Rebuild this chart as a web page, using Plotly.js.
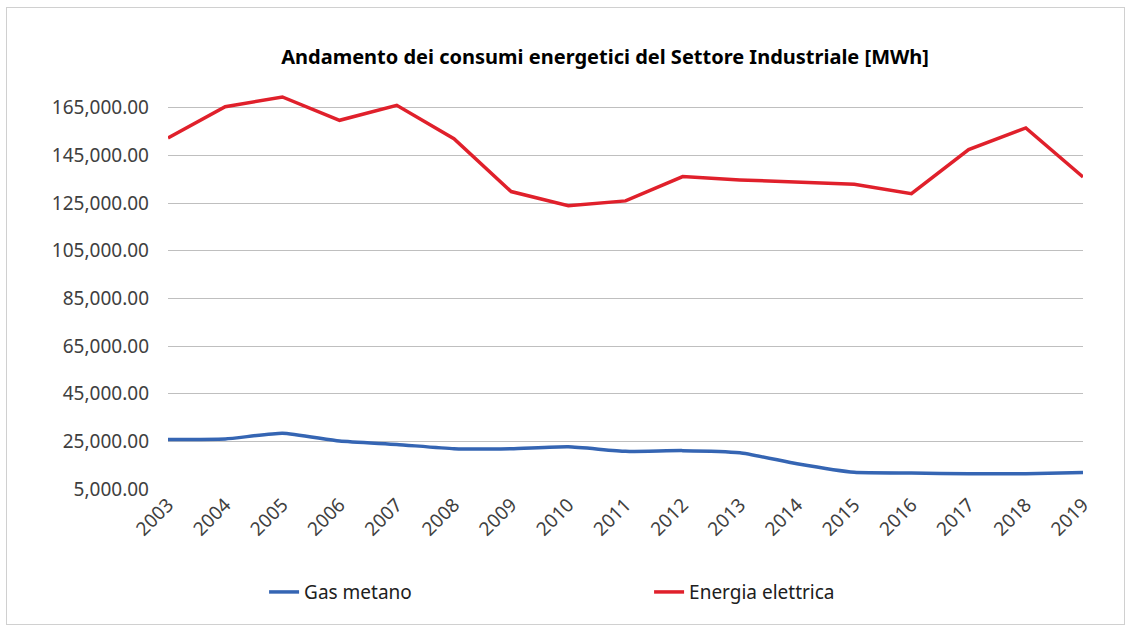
<!DOCTYPE html>
<html>
<head>
<meta charset="utf-8">
<script src="https://cdn.plot.ly/plotly-3.0.1.min.js"></script>
<style>
  html, body { margin: 0; padding: 0; background: #ffffff; }
  #wrap { position: relative; width: 1131px; height: 630px; }
  #chart { position: absolute; left: 0; top: 0; width: 1131px; height: 630px; }
  #frame { position: absolute; left: 6px; top: 7px; width: 1117px; height: 616px;
           border: 1px solid #d0d0d0; pointer-events: none; }
</style>
</head>
<body>
<div id="wrap">
  <div id="chart"></div>
  <div id="frame"></div>
</div>
<script>
const years = [2003, 2004, 2005, 2006, 2007, 2008, 2009, 2010, 2011, 2012, 2013, 2014, 2015, 2016, 2017, 2018, 2019];
const gasMetano = [25800, 26000, 28400, 25100, 23700, 21900, 21900, 22700, 20800, 21100, 20200, 15600, 12000, 11700, 11400, 11400, 11900];
const energiaElettrica = [152300, 165400, 169500, 159700, 166000, 152000, 129800, 123900, 125900, 136100, 134700, 133800, 132900, 128900, 147400, 156500, 135900];
const seriesNames = ['Gas metano', 'Energia elettrica'];
const chartTitle = 'Andamento dei consumi energetici del Settore Industriale [MWh]';

const fontFam = 'Noto Sans, Open Sans, sans-serif';

const traces = [
  { x: years, y: gasMetano, name: seriesNames[0], type: 'scatter', mode: 'lines',
    line: { color: '#3565b3', width: 3.5, shape: 'spline', smoothing: 0.5 } },
  { x: years, y: energiaElettrica, name: seriesNames[1], type: 'scatter', mode: 'lines',
    line: { color: '#e0202b', width: 3.5 } }
];

const layout = {
  width: 1131, height: 630,
  paper_bgcolor: '#ffffff', plot_bgcolor: '#ffffff',
  margin: { l: 168, r: 48, t: 91, b: 141 },
  font: { family: fontFam, color: '#404040', size: 19 },
  title: { text: '<b>' + chartTitle + '</b>', font: { family: fontFam, size: 20, color: '#000000' },
           x: 0.535, xref: 'container', xanchor: 'center', y: 0.909, yref: 'container', yanchor: 'middle' },
  xaxis: { range: [2003, 2019], tickmode: 'array', tickvals: years, ticktext: years.map(String),
           tickangle: -45, showgrid: false, zeroline: false, showline: false, ticks: '',
           tickfont: { size: 19, color: '#404040' } },
  yaxis: { range: [5000, 172000], tick0: 5000, dtick: 20000, tickformat: ',.2f',
           showgrid: true, gridcolor: '#bfbfbf', gridwidth: 1, zeroline: false, showline: false,
           ticks: '', ticklen: 0, ticklabelstandoff: 18, tickfont: { size: 19, color: '#404040' } },
  showlegend: true,
  legend: { orientation: 'h', x: 0.105, xanchor: 'left', y: -0.259, yanchor: 'middle',
            entrywidth: 340, entrywidthmode: 'pixels', font: { size: 19, color: '#202020' },
            bgcolor: 'rgba(0,0,0,0)' }
};

Plotly.newPlot('chart', traces, layout, { displayModeBar: false, staticPlot: true });
</script>
</body>
</html>
